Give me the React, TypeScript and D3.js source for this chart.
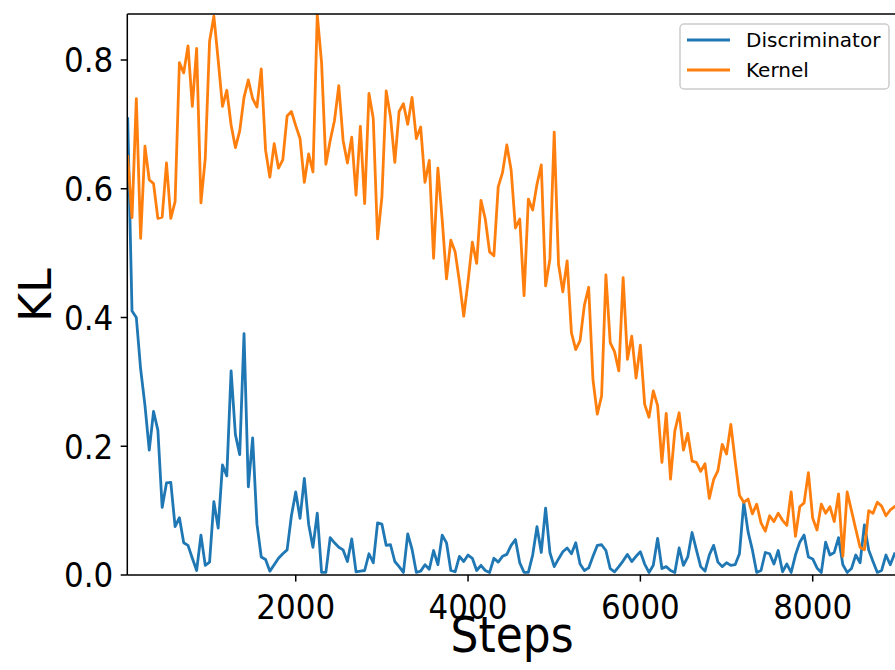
import React from "react";
import * as d3 from "d3";

const STEP0 = 50;
const STEP_DT = 50;

const kernel: number[] = [
  0.65, 0.555, 0.74, 0.523, 0.666, 0.614, 0.608, 0.554, 0.556, 0.64,
  0.554, 0.58, 0.796, 0.78, 0.822, 0.728, 0.818, 0.578, 0.647, 0.829,
  0.868, 0.8, 0.728, 0.753, 0.699, 0.664, 0.69, 0.742, 0.769, 0.74,
  0.727, 0.786, 0.66, 0.618, 0.67, 0.632, 0.645, 0.713, 0.72, 0.698,
  0.678, 0.61, 0.654, 0.626, 0.87, 0.796, 0.638, 0.675, 0.706, 0.76,
  0.675, 0.64, 0.68, 0.59, 0.697, 0.577, 0.748, 0.709, 0.522, 0.587,
  0.752, 0.712, 0.641, 0.72, 0.732, 0.7, 0.742, 0.678, 0.696, 0.61,
  0.644, 0.492, 0.632, 0.552, 0.46, 0.52, 0.502, 0.456, 0.402, 0.456,
  0.517, 0.484, 0.582, 0.553, 0.502, 0.496, 0.603, 0.625, 0.668, 0.629,
  0.539, 0.553, 0.434, 0.584, 0.567, 0.607, 0.637, 0.449, 0.491, 0.688,
  0.483, 0.44, 0.488, 0.376, 0.35, 0.364, 0.419, 0.447, 0.303, 0.25,
  0.278, 0.466, 0.361, 0.347, 0.317, 0.462, 0.335, 0.371, 0.306, 0.357,
  0.265, 0.245, 0.286, 0.263, 0.175, 0.251, 0.149, 0.224, 0.252, 0.194,
  0.22, 0.177, 0.175, 0.161, 0.173, 0.119, 0.148, 0.162, 0.203, 0.188,
  0.234, 0.177, 0.124, 0.113, 0.118, 0.095, 0.11, 0.081, 0.068, 0.092,
  0.083, 0.096, 0.085, 0.077, 0.129, 0.06, 0.106, 0.112, 0.159, 0.088,
  0.07, 0.11, 0.096, 0.106, 0.083, 0.126, 0.029, 0.129, 0.1, 0.071,
  0.043, 0.039, 0.1, 0.096, 0.113, 0.107, 0.092, 0.101, 0.106,
];

const discriminator: number[] = [
  0.709, 0.41, 0.4, 0.32, 0.264, 0.194, 0.254, 0.225, 0.105, 0.143,
  0.144, 0.075, 0.089, 0.05, 0.046, 0.026, 0.007, 0.062, 0.015, 0.02,
  0.114, 0.073, 0.171, 0.154, 0.317, 0.218, 0.187, 0.375, 0.137, 0.213,
  0.079, 0.028, 0.024, 0.006, 0.016, 0.026, 0.033, 0.039, 0.092, 0.129,
  0.088, 0.15, 0.079, 0.043, 0.096, 0.004, 0.004, 0.058, 0.05, 0.043,
  0.039, 0.021, 0.056, 0.005, 0.006, 0.007, 0.033, 0.019, 0.081, 0.079,
  0.046, 0.047, 0.021, 0.013, 0.004, 0.064, 0.04, 0.004, 0.006, 0.016,
  0.009, 0.038, 0.016, 0.062, 0.05, 0.007, 0.005, 0.029, 0.021, 0.031,
  0.026, 0.007, 0.015, 0.007, 0.004, 0.026, 0.02, 0.029, 0.032, 0.046,
  0.055, 0.019, 0.004, 0.004, 0.031, 0.075, 0.035, 0.104, 0.035, 0.013,
  0.025, 0.036, 0.042, 0.033, 0.05, 0.017, 0.007, 0.011, 0.029, 0.046,
  0.047, 0.038, 0.01, 0.005, 0.013, 0.022, 0.032, 0.021, 0.029, 0.036,
  0.017, 0.004, 0.015, 0.057, 0.01, 0.013, 0.007, 0.004, 0.042, 0.015,
  0.028, 0.066, 0.039, 0.013, 0.006, 0.031, 0.046, 0.02, 0.013, 0.019,
  0.015, 0.016, 0.033, 0.113, 0.067, 0.039, 0.004, 0.007, 0.035, 0.033,
  0.017, 0.038, 0.005, 0.017, 0.004, 0.031, 0.051, 0.062, 0.028, 0.025,
  0.011, 0.004, 0.051, 0.031, 0.035, 0.058, 0.016, 0.004, 0.01, 0.031,
  0.019, 0.078, 0.039, 0.021, 0.004, 0.007, 0.031, 0.016, 0.033,
];

const xTicks = [2000, 4000, 6000, 8000];
const yTicks = [0.0, 0.2, 0.4, 0.6, 0.8];
const seriesNames = ["Discriminator", "Kernel"];
const seriesColors = ["#1f77b4", "#ff7f0e"];

const W = 895;
const H = 670;
const left = 127.3;
const top = 14;
const bottom = 575;
const right = 895;

export default function App() {
  const x = d3.scaleLinear().domain([0, 8000]).range([123.4, 812.7]);
  const y = d3.scaleLinear().domain([0, 0.8]).range([bottom, 60]);
  const steps = kernel.map((_, i) => STEP0 + i * STEP_DT);
  const line = d3
    .line<number>()
    .x((_, i) => x(steps[i]))
    .y((d) => y(d));
  const series = [discriminator, kernel];
  const font = "DejaVu Sans, sans-serif";
  return (
    <svg
      width={W}
      height={H}
      style={{ position: "absolute", left: 0, top: 0, background: "#fff" }}
    >
      <defs>
        <clipPath id="plotclip">
          <rect x={left} y={top} width={right - left} height={bottom - top} />
        </clipPath>
      </defs>
      <rect x={0} y={0} width={W} height={H} fill="#fff" />
      <g clipPath="url(#plotclip)">
        {series.map((s, i) => (
          <path
            key={i}
            d={line(s) || ""}
            fill="none"
            stroke={seriesColors[i]}
            strokeWidth={2.8}
            strokeLinejoin="round"
            strokeLinecap="square"
          />
        ))}
      </g>
      {/* spines */}
      <line x1={left} x2={right} y1={top} y2={top} stroke="#000" strokeWidth={1.5} />
      <line x1={left} x2={right} y1={bottom} y2={bottom} stroke="#000" strokeWidth={1.5} />
      <line x1={left} x2={left} y1={top} y2={bottom} stroke="#000" strokeWidth={1.5} />
      {/* x ticks */}
      {xTicks.map((t) => (
        <g key={t}>
          <line x1={x(t)} x2={x(t)} y1={bottom} y2={bottom + 6.6} stroke="#000" strokeWidth={1.5} />
          <text
            transform={`translate(${x(t)},${bottom + 44}) scale(1,1.1)`}
            textAnchor="middle"
            fontFamily={font}
            fontSize={31}
            fill="#000"
          >
            {t}
          </text>
        </g>
      ))}
      {/* y ticks */}
      {yTicks.map((t) => (
        <g key={t}>
          <line x1={left - 6.6} x2={left} y1={y(t)} y2={y(t)} stroke="#000" strokeWidth={1.5} />
          <text
            transform={`translate(${left - 14},${y(t) + 12.4}) scale(1,1.1)`}
            textAnchor="end"
            fontFamily={font}
            fontSize={31}
            fill="#000"
          >
            {d3.format(".1f")(t)}
          </text>
        </g>
      ))}
      <text
        transform={`translate(${(left + right) / 2 + 1},652) scale(1,1.15)`}
        textAnchor="middle"
        fontFamily={font}
        fontSize={44}
        fill="#000"
      >
        Steps
      </text>
      <text
        transform={`translate(51,295) rotate(-90)`}
        textAnchor="middle"
        fontFamily={font}
        fontSize={44}
        fill="#000"
      >
        KL
      </text>
      {/* legend */}
      <rect
        x={680}
        y={24}
        width={209}
        height={65}
        rx={4}
        fill="#fff"
        fillOpacity={0.8}
        stroke="#cccccc"
        strokeWidth={1.5}
      />
      {seriesNames.map((n, i) => (
        <g key={n}>
          <line
            x1={687}
            x2={730}
            y1={40 + i * 30}
            y2={40 + i * 30}
            stroke={seriesColors[i]}
            strokeWidth={2.8}
          />
          <text
            x={746}
            y={47 + i * 30}
            fontFamily={font}
            fontSize={20}
            fill="#000"
          >
            {n}
          </text>
        </g>
      ))}
    </svg>
  );
}
